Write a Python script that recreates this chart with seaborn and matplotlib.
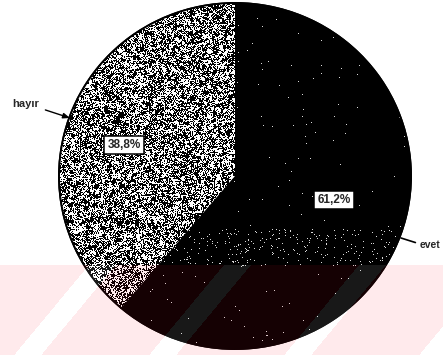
import numpy as np
import matplotlib
matplotlib.use("Agg")
import matplotlib.pyplot as plt
import seaborn as sns

# Survey answer shares (percent)
labels = ["hayır", "evet"]
shares = [38.8, 61.2]

sns.set_theme(style="white")
plt.rcParams["font.family"] = ["Liberation Sans", "DejaVu Sans"]
plt.rcParams["font.weight"] = "bold"

W, H = 443, 355
fig = plt.figure(figsize=(W / 100, H / 100), dpi=100)
fig.patch.set_facecolor("white")
ax = fig.add_axes([0, 0, 1, 1])

# pie centre / radii in pixels (slightly wider than tall)
cx, cy = 235, 176
rx, ry = 176, 173
xlim = (-cx / rx, (W - cx) / rx)
ylim = (-(H - cy) / ry, cy / ry)


def px(x, y):
    """pixel position (y from top) -> data coordinates"""
    return ((x - cx) / rx, (cy - y) / ry)


def fmt(p):
    return f"{p:.1f}%".replace(".", ",")


wedges = ax.pie(
    shares,
    startangle=90,
    counterclock=True,
    colors=["#8c8c8c", "black"],
    wedgeprops=dict(edgecolor="black", linewidth=1.3),
)[0]

# grainy stipple texture for the "hayır" slice
rng = np.random.default_rng(11)


def box_blur(a, k):
    out = np.zeros_like(a)
    for dy in range(-k, k + 1):
        for dx in range(-k, k + 1):
            out += np.roll(np.roll(a, dy, 0), dx, 1)
    return out / (2 * k + 1) ** 2


fine = rng.random((H, W))
coarse = box_blur(rng.random((H, W)), 1)
coarse = (coarse - coarse.mean()) / coarse.std()
v = fine + 0.18 * coarse
grain = np.where(v < 0.54, 0.0, 1.0)
grain_rgb = np.dstack([grain] * 3)
extent = (xlim[0], xlim[1], ylim[0], ylim[1])
im1 = ax.imshow(grain_rgb, extent=extent, origin="upper",
                interpolation="nearest", aspect="auto", zorder=2)
im1.set_clip_path(wedges[0])

# sparse light speckles on the "evet" slice, denser in a lower band
yy, xx = np.mgrid[0:H, 0:W]
dens = np.where((yy > 228) & (yy < 266), 0.035, 0.002)
spk = rng.random((H, W)) < dens
spk_rgba = np.zeros((H, W, 4))
spk_rgba[spk] = (0.85, 0.85, 0.85, 1.0)
im2 = ax.imshow(spk_rgba, extent=extent, origin="upper",
                interpolation="nearest", aspect="auto", zorder=2)
im2.set_clip_path(wedges[1])

# outline on top of the textures
for w in wedges:
    w.set_zorder(1)
outline = matplotlib.patches.Ellipse((0, 0), 2, 2, fill=False,
                                     edgecolor="black", linewidth=1.4, zorder=3)
ax.add_patch(outline)

# percentage labels in boxes
box = dict(boxstyle="square,pad=0.25", facecolor="white", edgecolor="black", linewidth=1.1)
ax.text(*px(124, 145), fmt(shares[0]), ha="center", va="center",
        fontsize=8.5, fontweight="bold", bbox=box, zorder=5)
ax.text(*px(334, 200), fmt(shares[1]), ha="center", va="center",
        fontsize=8.5, fontweight="bold", bbox=box, zorder=5)

# category labels with leader lines
ax.annotate(labels[0], xy=px(70, 118), xytext=px(26, 104),
            ha="center", va="center", fontsize=8, fontweight="bold", zorder=5,
            arrowprops=dict(arrowstyle="-|>,head_length=0.5,head_width=0.2",
                            color="black", lw=1.0, relpos=(1.0, 0.1),
                            shrinkA=2, shrinkB=0))
ax.annotate(labels[1], xy=px(401, 238), xytext=px(420, 245),
            ha="left", va="center", fontsize=7.5, fontweight="bold", zorder=5,
            arrowprops=dict(arrowstyle="-", color="black", lw=1.2,
                            relpos=(0.0, 0.6), shrinkA=1, shrinkB=0))

ax.set_xlim(*xlim)
ax.set_ylim(*ylim)
ax.set_aspect("auto")
ax.axis("off")

# faint diagonal-striped tint across the lower part of the sheet
ov = fig.add_axes([0, 0, 1, 1], zorder=10)
band = yy >= 265
phase = (xx + 0.83 * yy - 443) % 135
light = phase < 27
tint = np.zeros((H, W, 4))
tint[band & ~light] = (1.0, 0.09, 0.17, 0.09)
tint[band & light] = (1.0, 1.0, 1.0, 0.1)
ov.imshow(tint, extent=(0, W, H, 0), interpolation="nearest", aspect="auto")
ov.set_xlim(0, W)
ov.set_ylim(H, 0)
ov.axis("off")

fig.savefig("out.png", dpi=100, facecolor="white")
